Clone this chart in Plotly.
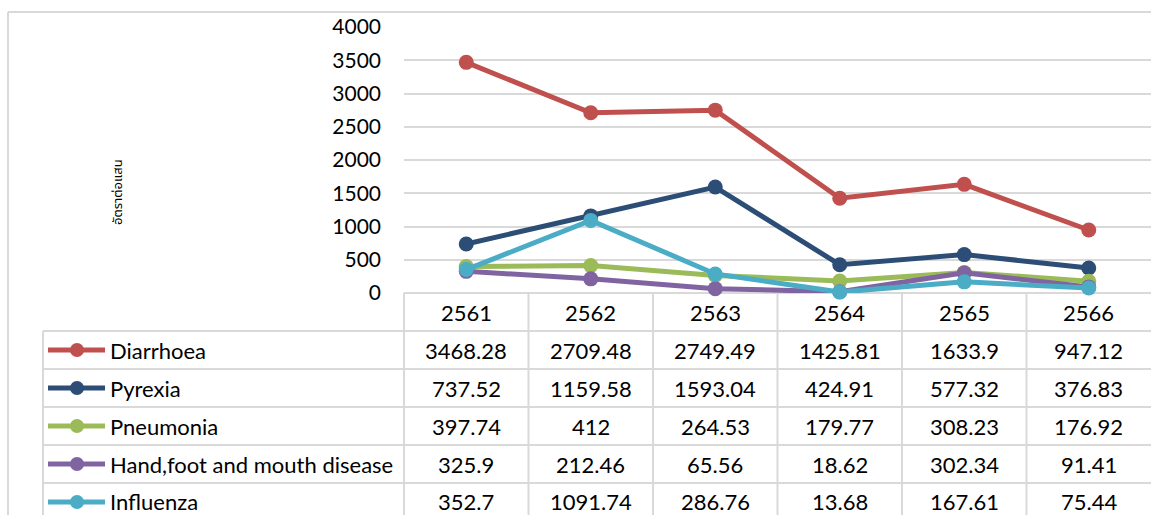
import plotly.graph_objects as go

# Data
years = ["2561", "2562", "2563", "2564", "2565", "2566"]
diarrhoea = [3468.28, 2709.48, 2749.49, 1425.81, 1633.9, 947.12]
pyrexia = [737.52, 1159.58, 1593.04, 424.91, 577.32, 376.83]
pneumonia = [397.74, 412, 264.53, 179.77, 308.23, 176.92]
hfmd = [325.9, 212.46, 65.56, 18.62, 302.34, 91.41]
influenza = [352.7, 1091.74, 286.76, 13.68, 167.61, 75.44]
series_names = ["Diarrhoea", "Pyrexia", "Pneumonia",
                "Hand,foot and mouth disease", "Influenza"]
y_title = "อัตราต่อแสน"
y_ticks = [0, 500, 1000, 1500, 2000, 2500, 3000, 3500, 4000]

series_values = [diarrhoea, pyrexia, pneumonia, hfmd, influenza]
colors = ["#C0504D", "#2C4D75", "#9BBB59", "#8064A2", "#4BACC6"]

W, H = 1151, 515
L, R, T, B = 404, 0, 27, 222
PW, PH = W - L - R, H - T - B
FONT = "Lato, Calibri, Carlito, sans-serif"
THAI_FONT = ("Noto Sans Thai, Noto Sans Thai UI, Noto Serif Thai, Sarabun, "
             "Loma, Garuda, Tahoma, Leelawadee UI, sans-serif")
GRID = "#d9d9d9"
TABLE_FONT_SIZE = 22


def px_x(X):
    return (X - L) / PW


def px_y(Y):
    return (H - B - Y) / PH


fig = go.Figure()
for name, vals, col in zip(series_names, series_values, colors):
    fig.add_trace(go.Scatter(
        x=years, y=vals, name=name, mode="lines+markers",
        line=dict(color=col, width=5),
        marker=dict(color=col, size=15),
        showlegend=False, cliponaxis=False,
    ))

shapes = []
annotations = []

# data table geometry (pixels)
header_top = 293
row_h = 38
header_bot = 331
ncol = len(years)
col_w = PW / ncol


def hline(y0, x0, x1):
    shapes.append(dict(type="line", xref="paper", yref="paper",
                       x0=px_x(x0), x1=px_x(x1), y0=px_y(y0), y1=px_y(y0),
                       line=dict(color=GRID, width=2), layer="below"))


def vline(x0, y0, y1):
    shapes.append(dict(type="line", xref="paper", yref="paper",
                       x0=px_x(x0), x1=px_x(x0), y0=px_y(y0), y1=px_y(y1),
                       line=dict(color=GRID, width=2), layer="below"))


def text(x, xref, y, s, **kw):
    annotations.append(dict(x=x, xref=xref, y=y, yref="paper", text=s,
                            showarrow=False, yanchor="middle",
                            font=dict(family=FONT, size=TABLE_FONT_SIZE,
                                      color="#000"), **kw))


# outer chart border
hline(12, 8, W + 5)
vline(8, 12, H + 5)

# table grid
hline(header_top, L, W + 5)
for i in range(len(series_names)):
    hline(header_bot + i * row_h, 43, W + 5)
vline(43, header_bot, H + 5)
for j in range(ncol):
    vline(L + j * col_w, header_top, H + 5)

# header: years (placed by category index on the x axis)
for j, yr in enumerate(years):
    text(j, "x", px_y((header_top + header_bot) / 2), yr, xanchor="center")

# rows: legend key + name + values
for i, (name, vals, col) in enumerate(zip(series_names, series_values, colors)):
    cy = header_bot + i * row_h + row_h / 2
    shapes.append(dict(type="line", xref="paper", yref="paper",
                       x0=px_x(48), x1=px_x(105), y0=px_y(cy), y1=px_y(cy),
                       line=dict(color=col, width=5)))
    r = 7
    shapes.append(dict(type="circle", xref="paper", yref="paper",
                       x0=px_x(77 - r), x1=px_x(77 + r),
                       y0=px_y(cy + r), y1=px_y(cy - r),
                       fillcolor=col, line=dict(color=col, width=0)))
    text(px_x(108), "paper", px_y(cy), name, xanchor="left")
    for j, v in enumerate(vals):
        text(j, "x", px_y(cy), f"{v:g}", xanchor="center")

# y-axis title
annotations.append(dict(x=px_x(118), xref="paper", y=px_y(192), yref="paper",
                        text=y_title, textangle=-90, showarrow=False,
                        xanchor="center", yanchor="middle",
                        font=dict(family=THAI_FONT, size=13, color="#000")))

fig.update_layout(
    width=W, height=H,
    margin=dict(l=L, r=R, t=T, b=B),
    paper_bgcolor="white", plot_bgcolor="white",
    shapes=shapes, annotations=annotations,
    xaxis=dict(type="category", categoryorder="array", categoryarray=years,
               range=[-0.5, ncol - 0.5], showticklabels=False, showgrid=False,
               zeroline=False, showline=False, ticks=""),
    yaxis=dict(range=[0, 4000], tickvals=y_ticks, showgrid=True, gridcolor=GRID,
               gridwidth=2, zeroline=False, showline=False, ticks="",
               ticklabelstandoff=22,
               tickfont=dict(family=FONT, size=21, color="#000")),
)

fig.write_html("out.html")
